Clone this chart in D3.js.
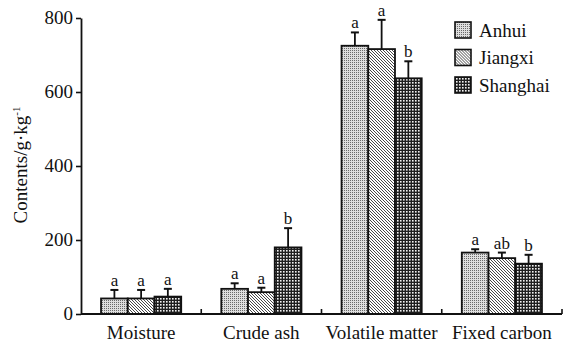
<!DOCTYPE html>
<html>
<head>
<meta charset="utf-8">
<script src="https://cdn.jsdelivr.net/npm/d3@7"></script>
<style>
  body { margin: 0; background: #fff; }
  text { font-family: "Liberation Serif", "Times New Roman", serif; fill: #111; }
</style>
</head>
<body>
<div id="plot"></div>
<script>
var categories = ["Moisture", "Crude ash", "Volatile matter", "Fixed carbon"];
var regions = ["Anhui", "Jiangxi", "Shanghai"];

// means per region, in category order
var anhui = [42, 68, 725, 166];
var jiangxi = [42, 59, 716, 151];
var shanghai = [47, 180, 637, 136];

// upper ends of error bars
var anhuiErr = [65, 83, 761, 175];
var jiangxiErr = [65, 71, 795, 166];
var shanghaiErr = [68, 232, 683, 160];

// significance letters
var anhuiSig = ["a", "a", "a", "a"];
var jiangxiSig = ["a", "a", "a", "ab"];
var shanghaiSig = ["a", "b", "b", "b"];

var yTicks = [0, 200, 400, 600, 800];

var width = 566, height = 343;
var margin = { left: 81, right: 4, top: 18, bottom: 29 };

var series = [
  { name: regions[0], values: anhui, err: anhuiErr, sig: anhuiSig, fill: "url(#pAnhui)" },
  { name: regions[1], values: jiangxi, err: jiangxiErr, sig: jiangxiSig, fill: "url(#pJiangxi)" },
  { name: regions[2], values: shanghai, err: shanghaiErr, sig: shanghaiSig, fill: "url(#pShanghai)" }
];

var svg = d3.select("#plot").append("svg")
  .attr("width", width)
  .attr("height", height);

// fill patterns
var defs = svg.append("defs");

var p1 = defs.append("pattern").attr("id", "pAnhui")
  .attr("patternUnits", "userSpaceOnUse").attr("width", 2).attr("height", 2);
p1.append("rect").attr("width", 2).attr("height", 2).attr("fill", "#dedede");
p1.append("rect").attr("width", 1).attr("height", 1).attr("fill", "#6a6a6a");

var p2 = defs.append("pattern").attr("id", "pJiangxi")
  .attr("patternUnits", "userSpaceOnUse").attr("width", 3).attr("height", 3);
p2.append("rect").attr("width", 3).attr("height", 3).attr("fill", "#fff");
p2.append("path").attr("d", "M-1,-1 L4,4 M-1,2 L1,4 M2,-1 L4,1")
  .attr("stroke", "#333").attr("stroke-width", 0.9);

var p3 = defs.append("pattern").attr("id", "pShanghai")
  .attr("patternUnits", "userSpaceOnUse").attr("width", 3).attr("height", 3);
p3.append("rect").attr("width", 3).attr("height", 3).attr("fill", "#1e1e1e");
p3.append("rect").attr("x", 1).attr("y", 1).attr("width", 1.6).attr("height", 1.6).attr("fill", "#f2f2f2");

var x = d3.scaleBand()
  .domain(categories)
  .range([margin.left, width - margin.right])
  .paddingInner(0)
  .paddingOuter(0);

var xSub = d3.scaleBand()
  .domain(regions)
  .range([0, x.bandwidth()])
  .paddingOuter(0.75)
  .paddingInner(0);

var y = d3.scaleLinear()
  .domain([0, 800])
  .range([height - margin.bottom, margin.top]);

// bars
var groups = svg.selectAll("g.series")
  .data(series)
  .enter().append("g")
  .attr("class", "series");

groups.each(function (s) {
  var g = d3.select(this);
  categories.forEach(function (c, i) {
    var bx = x(c) + xSub(s.name);
    var bw = xSub.bandwidth();
    var cx = bx + bw / 2;

    g.append("line")
      .attr("x1", cx).attr("x2", cx)
      .attr("y1", y(s.values[i])).attr("y2", y(s.err[i]))
      .attr("stroke", "#111").attr("stroke-width", 1.8);
    g.append("line")
      .attr("x1", cx - 4).attr("x2", cx + 4)
      .attr("y1", y(s.err[i])).attr("y2", y(s.err[i]))
      .attr("stroke", "#111").attr("stroke-width", 2);

    g.append("rect")
      .attr("x", bx)
      .attr("y", y(s.values[i]))
      .attr("width", bw)
      .attr("height", y(0) - y(s.values[i]))
      .attr("fill", s.fill)
      .attr("stroke", "#111")
      .attr("stroke-width", 1.8);

    g.append("text")
      .attr("x", cx)
      .attr("y", y(s.err[i]) - 4)
      .attr("text-anchor", "middle")
      .style("font-size", "17px")
      .text(s.sig[i]);
  });
});

// y axis
var yAxis = d3.axisLeft(y).tickValues(yTicks).tickSize(5).tickSizeOuter(0);
var gy = svg.append("g")
  .attr("transform", "translate(" + margin.left + ",0)")
  .call(yAxis);
gy.select(".domain").attr("stroke", "#111").attr("stroke-width", 1.8);
gy.selectAll(".tick line").attr("stroke", "#111").attr("stroke-width", 1.6);
gy.selectAll(".tick text").style("font-size", "19px").attr("x", -8).attr("dy", "0.3em");

// x axis
var gx = svg.append("g")
  .attr("transform", "translate(0," + y(0) + ")");
gx.append("line")
  .attr("x1", margin.left).attr("x2", width - margin.right)
  .attr("stroke", "#111").attr("stroke-width", 1.8);
gx.selectAll("line.tick")
  .data(categories)
  .enter().append("line")
  .attr("class", "tick")
  .attr("x1", function (d) { return x(d) + x.bandwidth(); })
  .attr("x2", function (d) { return x(d) + x.bandwidth(); })
  .attr("y1", 0).attr("y2", -5)
  .attr("stroke", "#111").attr("stroke-width", 1.6);
gx.selectAll("text.cat")
  .data(categories)
  .enter().append("text")
  .attr("class", "cat")
  .attr("x", function (d) { return x(d) + x.bandwidth() / 2; })
  .attr("y", 25)
  .attr("text-anchor", "middle")
  .style("font-size", "19px")
  .text(function (d) { return d; });

// y label
var yl = svg.append("text")
  .attr("transform", "translate(27," + 165 + ") rotate(-90)")
  .attr("text-anchor", "middle")
  .style("font-size", "19px");
yl.append("tspan").text("Contents/g·kg");
yl.append("tspan").attr("dy", "-7").style("font-size", "11px").text("-1");

// legend
var legend = svg.selectAll("g.legend")
  .data(series)
  .enter().append("g")
  .attr("class", "legend")
  .attr("transform", function (d, i) { return "translate(455," + (22 + i * 27.5) + ")"; });
legend.append("rect")
  .attr("width", 16).attr("height", 16)
  .attr("fill", function (d) { return d.fill; })
  .attr("stroke", "#111").attr("stroke-width", 1.6);
legend.append("text")
  .attr("x", 24).attr("y", 8)
  .attr("dy", "0.35em")
  .style("font-size", "19px")
  .text(function (d) { return d.name; });
</script>
</body>
</html>
